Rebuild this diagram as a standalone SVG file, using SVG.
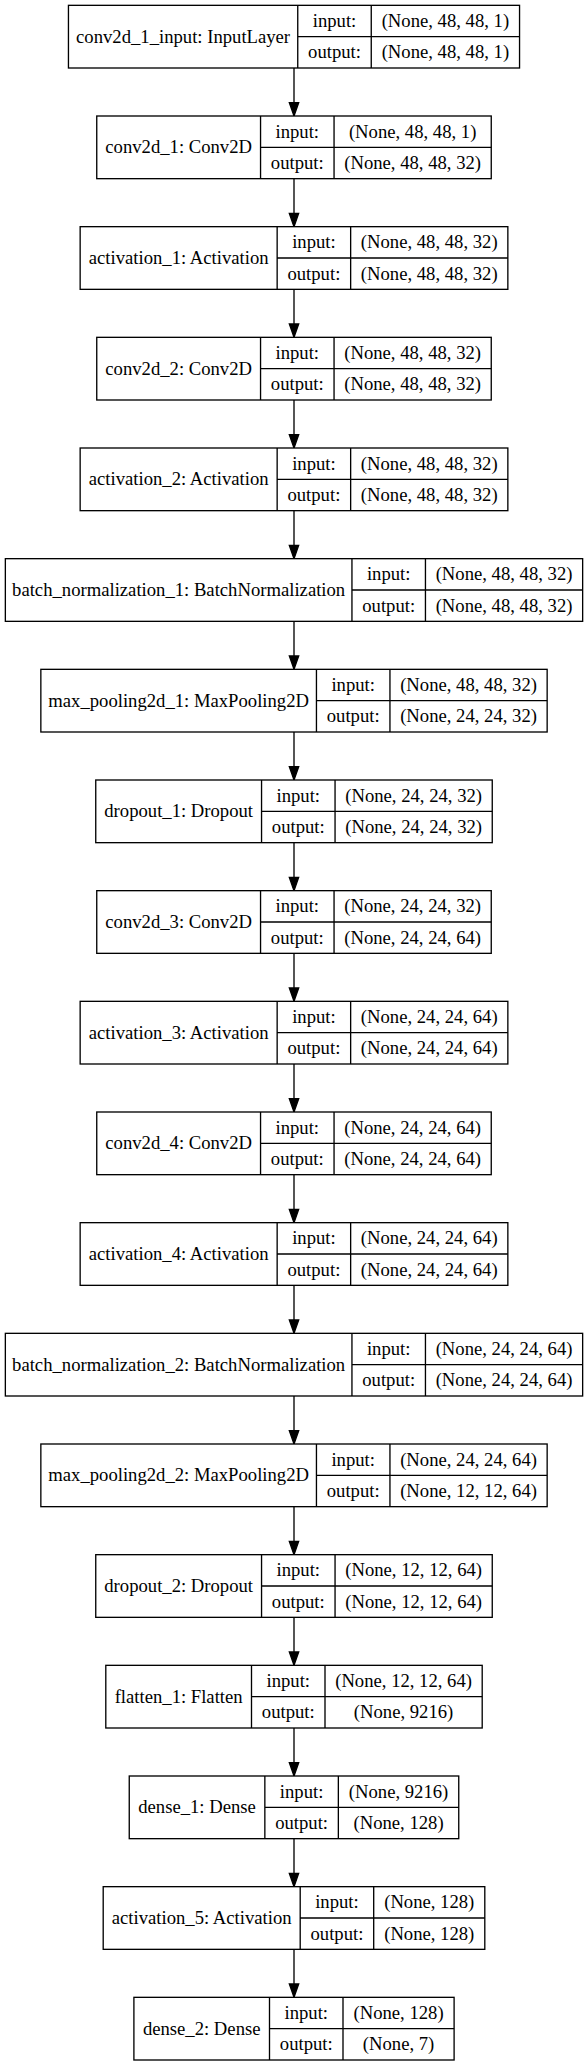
<svg xmlns="http://www.w3.org/2000/svg" width="588" height="2065" viewBox="0 0 588 2065">
<style>
.b{fill:#fff;stroke:#000;stroke-width:1.33}
.d{stroke:#000;stroke-width:1.33;fill:none}
.t{font-family:"Liberation Serif","Times New Roman",serif;font-size:18.67px;fill:#000;text-anchor:middle}
.e{stroke:#000;stroke-width:1.33;fill:none}
</style>
<defs>
<marker id="ah" markerUnits="userSpaceOnUse" markerWidth="16" markerHeight="12" refX="13.33" refY="0" orient="auto" overflow="visible">
<path d="M0,-4.67 L13.33,0 L0,4.67 Z" fill="#000" stroke="#000" stroke-width="1.33"/>
</marker>
</defs>
<rect width="588" height="2065" fill="#fff"/>
<g id="connectors">
<path class="e" marker-end="url(#ah)" d="M294,68 V116"/>
<path class="e" marker-end="url(#ah)" d="M294,178.67 V226.67"/>
<path class="e" marker-end="url(#ah)" d="M294,289.33 V337.33"/>
<path class="e" marker-end="url(#ah)" d="M294,400 V448"/>
<path class="e" marker-end="url(#ah)" d="M294,510.67 V558.67"/>
<path class="e" marker-end="url(#ah)" d="M294,621.33 V669.33"/>
<path class="e" marker-end="url(#ah)" d="M294,732 V780"/>
<path class="e" marker-end="url(#ah)" d="M294,842.67 V890.67"/>
<path class="e" marker-end="url(#ah)" d="M294,953.33 V1001.33"/>
<path class="e" marker-end="url(#ah)" d="M294,1064 V1112"/>
<path class="e" marker-end="url(#ah)" d="M294,1174.67 V1222.67"/>
<path class="e" marker-end="url(#ah)" d="M294,1285.33 V1333.33"/>
<path class="e" marker-end="url(#ah)" d="M294,1396 V1444"/>
<path class="e" marker-end="url(#ah)" d="M294,1506.67 V1554.67"/>
<path class="e" marker-end="url(#ah)" d="M294,1617.33 V1665.33"/>
<path class="e" marker-end="url(#ah)" d="M294,1728 V1776"/>
<path class="e" marker-end="url(#ah)" d="M294,1838.67 V1886.67"/>
<path class="e" marker-end="url(#ah)" d="M294,1949.33 V1997.33"/>
</g>
<g id="conv2d_1_input" transform="translate(0,5.33)">
<rect class="b" x="68.45" y="0" width="451.1" height="62.67"/>
<path class="d" d="M297.75,0V62.67M371.25,0V62.67M297.75,31.33H519.55"/>
<text class="t" x="183.1" y="37.33">conv2d_1_input: InputLayer</text>
<text class="t" x="334.5" y="21.67">input:</text>
<text class="t" x="334.5" y="53">output:</text>
<text class="t" x="445.4" y="21.67">(None, 48, 48, 1)</text>
<text class="t" x="445.4" y="53">(None, 48, 48, 1)</text>
</g>
<g id="conv2d_1" transform="translate(0,116)">
<rect class="b" x="96.75" y="0" width="394.5" height="62.67"/>
<path class="d" d="M260.55,0V62.67M334.05,0V62.67M260.55,31.33H491.25"/>
<text class="t" x="178.65" y="37.33">conv2d_1: Conv2D</text>
<text class="t" x="297.3" y="21.67">input:</text>
<text class="t" x="297.3" y="53">output:</text>
<text class="t" x="412.65" y="21.67">(None, 48, 48, 1)</text>
<text class="t" x="412.65" y="53">(None, 48, 48, 32)</text>
</g>
<g id="activation_1" transform="translate(0,226.67)">
<rect class="b" x="80.15" y="0" width="427.7" height="62.67"/>
<path class="d" d="M277.15,0V62.67M350.65,0V62.67M277.15,31.33H507.85"/>
<text class="t" x="178.65" y="37.33">activation_1: Activation</text>
<text class="t" x="313.9" y="21.67">input:</text>
<text class="t" x="313.9" y="53">output:</text>
<text class="t" x="429.25" y="21.67">(None, 48, 48, 32)</text>
<text class="t" x="429.25" y="53">(None, 48, 48, 32)</text>
</g>
<g id="conv2d_2" transform="translate(0,337.33)">
<rect class="b" x="96.75" y="0" width="394.5" height="62.67"/>
<path class="d" d="M260.55,0V62.67M334.05,0V62.67M260.55,31.33H491.25"/>
<text class="t" x="178.65" y="37.33">conv2d_2: Conv2D</text>
<text class="t" x="297.3" y="21.67">input:</text>
<text class="t" x="297.3" y="53">output:</text>
<text class="t" x="412.65" y="21.67">(None, 48, 48, 32)</text>
<text class="t" x="412.65" y="53">(None, 48, 48, 32)</text>
</g>
<g id="activation_2" transform="translate(0,448)">
<rect class="b" x="80.15" y="0" width="427.7" height="62.67"/>
<path class="d" d="M277.15,0V62.67M350.65,0V62.67M277.15,31.33H507.85"/>
<text class="t" x="178.65" y="37.33">activation_2: Activation</text>
<text class="t" x="313.9" y="21.67">input:</text>
<text class="t" x="313.9" y="53">output:</text>
<text class="t" x="429.25" y="21.67">(None, 48, 48, 32)</text>
<text class="t" x="429.25" y="53">(None, 48, 48, 32)</text>
</g>
<g id="batch_normalization_1" transform="translate(0,558.67)">
<rect class="b" x="5.35" y="0" width="577.3" height="62.67"/>
<path class="d" d="M351.95,0V62.67M425.45,0V62.67M351.95,31.33H582.65"/>
<text class="t" x="178.65" y="37.33">batch_normalization_1: BatchNormalization</text>
<text class="t" x="388.7" y="21.67">input:</text>
<text class="t" x="388.7" y="53">output:</text>
<text class="t" x="504.05" y="21.67">(None, 48, 48, 32)</text>
<text class="t" x="504.05" y="53">(None, 48, 48, 32)</text>
</g>
<g id="max_pooling2d_1" transform="translate(0,669.33)">
<rect class="b" x="40.85" y="0" width="506.3" height="62.67"/>
<path class="d" d="M316.45,0V62.67M389.95,0V62.67M316.45,31.33H547.15"/>
<text class="t" x="178.65" y="37.33">max_pooling2d_1: MaxPooling2D</text>
<text class="t" x="353.2" y="21.67">input:</text>
<text class="t" x="353.2" y="53">output:</text>
<text class="t" x="468.55" y="21.67">(None, 48, 48, 32)</text>
<text class="t" x="468.55" y="53">(None, 24, 24, 32)</text>
</g>
<g id="dropout_1" transform="translate(0,780)">
<rect class="b" x="95.75" y="0" width="396.5" height="62.67"/>
<path class="d" d="M261.55,0V62.67M335.05,0V62.67M261.55,31.33H492.25"/>
<text class="t" x="178.65" y="37.33">dropout_1: Dropout</text>
<text class="t" x="298.3" y="21.67">input:</text>
<text class="t" x="298.3" y="53">output:</text>
<text class="t" x="413.65" y="21.67">(None, 24, 24, 32)</text>
<text class="t" x="413.65" y="53">(None, 24, 24, 32)</text>
</g>
<g id="conv2d_3" transform="translate(0,890.67)">
<rect class="b" x="96.75" y="0" width="394.5" height="62.67"/>
<path class="d" d="M260.55,0V62.67M334.05,0V62.67M260.55,31.33H491.25"/>
<text class="t" x="178.65" y="37.33">conv2d_3: Conv2D</text>
<text class="t" x="297.3" y="21.67">input:</text>
<text class="t" x="297.3" y="53">output:</text>
<text class="t" x="412.65" y="21.67">(None, 24, 24, 32)</text>
<text class="t" x="412.65" y="53">(None, 24, 24, 64)</text>
</g>
<g id="activation_3" transform="translate(0,1001.33)">
<rect class="b" x="80.15" y="0" width="427.7" height="62.67"/>
<path class="d" d="M277.15,0V62.67M350.65,0V62.67M277.15,31.33H507.85"/>
<text class="t" x="178.65" y="37.33">activation_3: Activation</text>
<text class="t" x="313.9" y="21.67">input:</text>
<text class="t" x="313.9" y="53">output:</text>
<text class="t" x="429.25" y="21.67">(None, 24, 24, 64)</text>
<text class="t" x="429.25" y="53">(None, 24, 24, 64)</text>
</g>
<g id="conv2d_4" transform="translate(0,1112)">
<rect class="b" x="96.75" y="0" width="394.5" height="62.67"/>
<path class="d" d="M260.55,0V62.67M334.05,0V62.67M260.55,31.33H491.25"/>
<text class="t" x="178.65" y="37.33">conv2d_4: Conv2D</text>
<text class="t" x="297.3" y="21.67">input:</text>
<text class="t" x="297.3" y="53">output:</text>
<text class="t" x="412.65" y="21.67">(None, 24, 24, 64)</text>
<text class="t" x="412.65" y="53">(None, 24, 24, 64)</text>
</g>
<g id="activation_4" transform="translate(0,1222.67)">
<rect class="b" x="80.15" y="0" width="427.7" height="62.67"/>
<path class="d" d="M277.15,0V62.67M350.65,0V62.67M277.15,31.33H507.85"/>
<text class="t" x="178.65" y="37.33">activation_4: Activation</text>
<text class="t" x="313.9" y="21.67">input:</text>
<text class="t" x="313.9" y="53">output:</text>
<text class="t" x="429.25" y="21.67">(None, 24, 24, 64)</text>
<text class="t" x="429.25" y="53">(None, 24, 24, 64)</text>
</g>
<g id="batch_normalization_2" transform="translate(0,1333.33)">
<rect class="b" x="5.35" y="0" width="577.3" height="62.67"/>
<path class="d" d="M351.95,0V62.67M425.45,0V62.67M351.95,31.33H582.65"/>
<text class="t" x="178.65" y="37.33">batch_normalization_2: BatchNormalization</text>
<text class="t" x="388.7" y="21.67">input:</text>
<text class="t" x="388.7" y="53">output:</text>
<text class="t" x="504.05" y="21.67">(None, 24, 24, 64)</text>
<text class="t" x="504.05" y="53">(None, 24, 24, 64)</text>
</g>
<g id="max_pooling2d_2" transform="translate(0,1444)">
<rect class="b" x="40.85" y="0" width="506.3" height="62.67"/>
<path class="d" d="M316.45,0V62.67M389.95,0V62.67M316.45,31.33H547.15"/>
<text class="t" x="178.65" y="37.33">max_pooling2d_2: MaxPooling2D</text>
<text class="t" x="353.2" y="21.67">input:</text>
<text class="t" x="353.2" y="53">output:</text>
<text class="t" x="468.55" y="21.67">(None, 24, 24, 64)</text>
<text class="t" x="468.55" y="53">(None, 12, 12, 64)</text>
</g>
<g id="dropout_2" transform="translate(0,1554.67)">
<rect class="b" x="95.75" y="0" width="396.5" height="62.67"/>
<path class="d" d="M261.55,0V62.67M335.05,0V62.67M261.55,31.33H492.25"/>
<text class="t" x="178.65" y="37.33">dropout_2: Dropout</text>
<text class="t" x="298.3" y="21.67">input:</text>
<text class="t" x="298.3" y="53">output:</text>
<text class="t" x="413.65" y="21.67">(None, 12, 12, 64)</text>
<text class="t" x="413.65" y="53">(None, 12, 12, 64)</text>
</g>
<g id="flatten_1" transform="translate(0,1665.33)">
<rect class="b" x="105.8" y="0" width="376.4" height="62.67"/>
<path class="d" d="M251.5,0V62.67M325,0V62.67M251.5,31.33H482.2"/>
<text class="t" x="178.65" y="37.33">flatten_1: Flatten</text>
<text class="t" x="288.25" y="21.67">input:</text>
<text class="t" x="288.25" y="53">output:</text>
<text class="t" x="403.6" y="21.67">(None, 12, 12, 64)</text>
<text class="t" x="403.6" y="53">(None, 9216)</text>
</g>
<g id="dense_1" transform="translate(0,1776)">
<rect class="b" x="129.25" y="0" width="329.5" height="62.67"/>
<path class="d" d="M264.85,0V62.67M338.35,0V62.67M264.85,31.33H458.75"/>
<text class="t" x="197.05" y="37.33">dense_1: Dense</text>
<text class="t" x="301.6" y="21.67">input:</text>
<text class="t" x="301.6" y="53">output:</text>
<text class="t" x="398.55" y="21.67">(None, 9216)</text>
<text class="t" x="398.55" y="53">(None, 128)</text>
</g>
<g id="activation_5" transform="translate(0,1886.67)">
<rect class="b" x="103.2" y="0" width="381.6" height="62.67"/>
<path class="d" d="M300.2,0V62.67M373.7,0V62.67M300.2,31.33H484.8"/>
<text class="t" x="201.7" y="37.33">activation_5: Activation</text>
<text class="t" x="336.95" y="21.67">input:</text>
<text class="t" x="336.95" y="53">output:</text>
<text class="t" x="429.25" y="21.67">(None, 128)</text>
<text class="t" x="429.25" y="53">(None, 128)</text>
</g>
<g id="dense_2" transform="translate(0,1997.33)">
<rect class="b" x="133.9" y="0" width="320.2" height="62.67"/>
<path class="d" d="M269.5,0V62.67M343,0V62.67M269.5,31.33H454.1"/>
<text class="t" x="201.7" y="37.33">dense_2: Dense</text>
<text class="t" x="306.25" y="21.67">input:</text>
<text class="t" x="306.25" y="53">output:</text>
<text class="t" x="398.55" y="21.67">(None, 128)</text>
<text class="t" x="398.55" y="53">(None, 7)</text>
</g>
</svg>
